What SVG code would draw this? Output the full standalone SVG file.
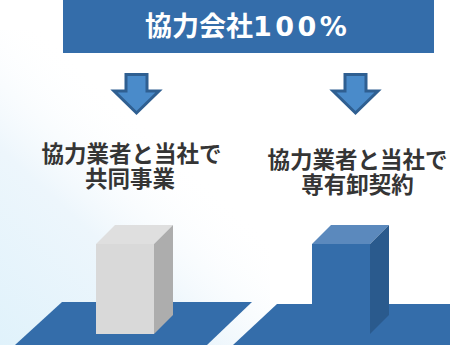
<svg xmlns="http://www.w3.org/2000/svg" width="450" height="345" viewBox="0 0 450 345">
  <defs>
    <linearGradient id="haze" x1="0" y1="1" x2="0.55" y2="0.3">
      <stop offset="0" stop-color="#e0f2fb"/>
      <stop offset="0.55" stop-color="#edf6fc"/>
      <stop offset="1" stop-color="#ffffff" stop-opacity="0"/>
    </linearGradient>
    <style>
      .banner { fill: #346daa; }
      .title { font-family: "Noto Sans CJK JP", "Noto Sans", sans-serif; font-weight: bold; font-size: 27px; fill: #ffffff; }
      .digits { font-family: "DejaVu Sans", sans-serif; font-size: 27px; letter-spacing: 3.5px; }
      .label { font-family: "Noto Sans CJK JP", "Noto Sans", sans-serif; font-weight: bold; font-size: 22.5px; fill: #353535; text-anchor: middle; }
      .arrow { fill: #4a8bca; stroke: #2f5f91; stroke-width: 3; stroke-linejoin: miter; }
      .floor { fill: #346daa; }
    </style>
  </defs>

  <!-- background -->
  <rect width="450" height="345" fill="#ffffff"/>
  <rect x="0" y="30" width="270" height="315" fill="url(#haze)"/>

  <!-- header bar -->
  <g id="header">
    <rect class="banner" x="63" y="0" width="371" height="53"/>
    <text class="title" x="145" y="36">協力会社<tspan class="digits">100%</tspan></text>
  </g>

  <!-- down arrows -->
  <g id="connectors">
    <path class="arrow" d="M126,74.5 H147 V91 H159 L136.5,113 L114,91 H126 Z"/>
    <path class="arrow" d="M345,74.5 H366 V91 H378 L355.5,113 L333,91 H345 Z"/>
  </g>

  <!-- left: joint venture -->
  <g id="joint-venture">
    <text class="label" x="131.5" y="162">協力業者と当社で</text>
    <text class="label" x="130" y="187">共同事業</text>
    <polygon class="floor" points="62,302 252,302 207,345 15,345"/>
    <polygon fill="#dfdfdf" points="96,244 115,225 173,225 154,244"/>
    <polygon fill="#adadad" points="154,244 173,225 173,315 154,334"/>
    <rect fill="#d9d9d9" x="96" y="244" width="58" height="90"/>
  </g>

  <!-- right: exclusive wholesale contract -->
  <g id="exclusive-contract">
    <text class="label" x="357.5" y="168">協力業者と当社で</text>
    <text class="label" x="357.5" y="193">専有卸契約</text>
    <polygon class="floor" points="277,304 452,304 452,345 233,345"/>
    <polygon fill="#5b89bd" points="312,244 331,225 389,225 370,244"/>
    <polygon fill="#2a5a8d" points="370,244 389,225 389,315 370,334"/>
    <rect fill="#346daa" x="312" y="244" width="58" height="90"/>
  </g>
</svg>
